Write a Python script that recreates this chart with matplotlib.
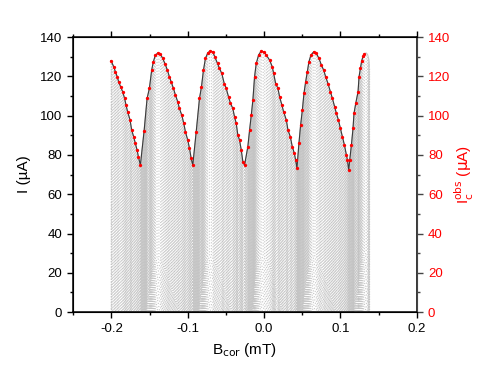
import numpy as np
import matplotlib
matplotlib.use("Agg")
import matplotlib.pyplot as plt
from matplotlib.collections import LineCollection
from matplotlib.ticker import MultipleLocator

plt.rcParams['font.family'] = ['Liberation Sans', 'DejaVu Sans']
plt.rcParams['axes.unicode_minus'] = False

b_obs = [-0.2004, -0.1965, -0.1948, -0.1922, -0.1905, -0.1878, -0.1852, -0.1826, -0.1808, -0.1787,
         -0.1755, -0.1734, -0.1708, -0.1686, -0.1663, -0.1646, -0.1620,
         -0.1571, -0.1532, -0.1502, -0.1472, -0.1450, -0.1423, -0.1388,
         -0.1358, -0.1328, -0.1296, -0.1266, -0.1240, -0.1217, -0.1187, -0.1161, -0.1131, -0.1109,
         -0.1078, -0.1052, -0.1030, -0.1000, -0.0977, -0.0955, -0.0934,
         -0.0889, -0.0846, -0.0820, -0.0794, -0.0768, -0.0737, -0.0706,
         -0.0672, -0.0646, -0.0610, -0.0584, -0.0554, -0.0522, -0.0496, -0.0466, -0.0440, -0.0410,
         -0.0387, -0.0365, -0.0344, -0.0322, -0.0299, -0.0278, -0.0256,
         -0.0213, -0.0190, -0.0168, -0.0147, -0.0125, -0.0103, -0.0072, -0.0037,
         -0.0007, 0.0029, 0.0072, 0.0107, 0.0125, 0.0151, 0.0181, 0.0203, 0.0233, 0.0255,
         0.0291, 0.0312, 0.0343, 0.0369, 0.0396, 0.0413, 0.0430,
         0.0456, 0.0478, 0.0501, 0.0522, 0.0544, 0.0566, 0.0587, 0.0613, 0.0649,
         0.0684, 0.0718, 0.0750, 0.0780, 0.0806, 0.0836, 0.0868, 0.0894, 0.0924, 0.0946,
         0.0973, 0.0999, 0.1025, 0.1052, 0.1078, 0.1091, 0.1108,
         0.1121, 0.1143, 0.1164, 0.1177, 0.1200, 0.1230, 0.1243, 0.1261, 0.1278, 0.1296, 0.1314]
ic_obs = [128.0, 124.6, 122.4, 119.8, 117.3, 114.7, 112.2, 108.8, 105.4, 102.0,
          97.8, 92.7, 89.3, 85.9, 82.5, 79.1, 74.8,
          92.3, 108.8, 113.9, 123.2, 127.5, 130.9, 132.0,
          131.4, 129.2, 126.3, 123.2, 119.8, 117.3, 113.9, 110.5, 107.1, 103.7,
          100.3, 96.1, 91.8, 87.6, 83.4, 78.3, 74.8,
          91.8, 108.8, 114.7, 123.2, 129.2, 132.0, 133.0,
          132.5, 130.0, 126.6, 124.1, 121.5, 116.4, 113.9, 109.6, 106.3, 103.7,
          99.4, 96.1, 90.1, 87.6, 82.5, 76.5, 74.8,
          84.2, 92.7, 100.3, 107.9, 119.8, 126.6, 130.9, 133.0,
          132.5, 130.9, 128.3, 124.9, 121.5, 116.4, 113.9, 109.6, 105.4, 102.0,
          97.8, 92.7, 89.3, 84.2, 80.8, 77.4, 73.2,
          85.9, 95.2, 102.9, 111.4, 117.3, 122.4, 127.5, 130.9, 132.5,
          131.7, 129.2, 125.8, 123.2, 119.8, 116.4, 112.2, 108.8, 104.5, 101.2,
          97.8, 93.5, 89.3, 85.0, 79.9, 77.4, 72.3,
          77.4, 85.0, 93.5, 101.2, 106.3, 112.2, 119.8, 124.1, 128.0, 130.3, 131.4]

# grey branch that runs on past the last red dot
b_tail = [0.1335, 0.1355, 0.1372, 0.1376]
i_tail = [132.0, 131.2, 128.5, 125.0]

# the grey family below the envelope: one curve every branch_drop uA
branch_drop = 1.5

fig = plt.figure(figsize=(4.91, 3.68), dpi=100)
ax = fig.add_axes([0.149, 0.152, 0.700, 0.747])

base_b = np.array(b_obs + b_tail)
base_i = np.array(ic_obs + i_tail)

segs = []
for k in range(1, 90):
    segs.append(np.column_stack([base_b, base_i - k * branch_drop]))
grey = LineCollection(segs, colors='#c4c4c4', linewidths=0.8, linestyles=(0, (1, 1.1)), zorder=1)
ax.add_collection(grey)
# left and right edges of the grey map
ax.plot([base_b[0], base_b[0]], [0, base_i[0]], color='#c4c4c4', lw=0.9, ls=(0, (1, 1)), zorder=1)
ax.plot([base_b[-1], base_b[-1]], [0, base_i[-1]], color='#c4c4c4', lw=0.9, ls=(0, (1, 1)), zorder=1)

ax.plot(base_b, base_i, color='#c4c4c4', lw=0.8, zorder=1)
ax.plot(b_obs, ic_obs, color='#3a3a3a', lw=0.8, zorder=2)
ax.plot(b_obs, ic_obs, ls='none', marker='o', ms=2.4, mfc='red', mec='red', mew=0, zorder=3)

ax.set_xlim(-0.25, 0.2)
ax.set_ylim(0, 140)
ax.xaxis.set_minor_locator(MultipleLocator(0.05))
ax.yaxis.set_major_locator(MultipleLocator(20))
ax.yaxis.set_minor_locator(MultipleLocator(10))
ax.set_xticks([-0.2, -0.1, 0.0, 0.1, 0.2])
ax.set_xticklabels(['-0.2', '-0.1', '0.0', '0.1', '0.2'])
ax.tick_params(which='major', direction='out', length=4.5, width=1, labelsize=9.5)
ax.tick_params(which='minor', direction='out', length=2.5, width=1)
ax.tick_params(top=True, which='both', labeltop=False)
for s in ax.spines.values():
    s.set_linewidth(1.1)
ax.set_xlabel(r'B$_{\mathrm{cor}}$ (mT)', fontsize=11)
ax.set_ylabel(u'I (\u00b5A)', fontsize=11, labelpad=6)

ax2 = ax.twinx()
ax2.set_ylim(0, 140)
ax2.yaxis.set_major_locator(MultipleLocator(20))
ax2.yaxis.set_minor_locator(MultipleLocator(10))
ax2.tick_params(which='major', direction='out', length=4.5, width=1, labelsize=9.5,
                labelcolor='red', color='#444444')
ax2.tick_params(which='minor', direction='out', length=2.5, width=1, color='#444444')
ax2.spines['right'].set_color('#444444')
ax2.set_ylabel(r'I$_\mathrm{c}^\mathrm{obs}$ ($\mathrm{\mu}$A)', color='red', fontsize=11, labelpad=2)

fig.savefig('out.png', dpi=100)
